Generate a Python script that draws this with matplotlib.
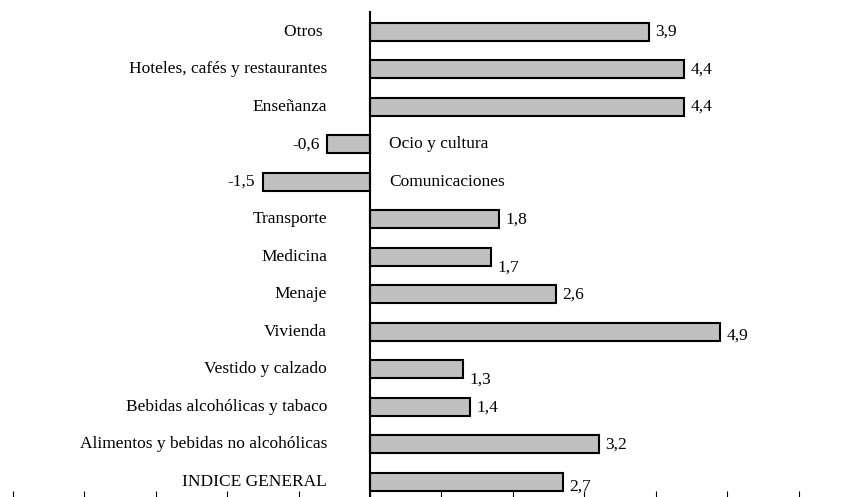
import matplotlib
matplotlib.use("Agg")
import matplotlib.pyplot as plt
import numpy as np

plt.rcParams["font.family"] = ["Liberation Serif", "DejaVu Serif"]

# categories from bottom to top
categories = [
    "INDICE GENERAL",
    "Alimentos y bebidas no alcohólicas",
    "Bebidas alcohólicas y tabaco",
    "Vestido y calzado",
    "Vivienda",
    "Menaje",
    "Medicina",
    "Transporte",
    "Comunicaciones",
    "Ocio y cultura",
    "Enseñanza",
    "Hoteles, cafés y restaurantes",
    "Otros ",
]
values = [2.7, 3.2, 1.4, 1.3, 4.9, 2.6, 1.7, 1.8, -1.5, -0.6, 4.4, 4.4, 3.9]
value_labels = ["2,7", "3,2", "1,4", "1,3", "4,9", "2,6", "1,7", "1,8", "-1,5", "-0,6", "4,4", "4,4", "3,9"]
# vertical nudges of value labels (in bar units), as in the original layout
label_drop = [0.13, 0, 0.03, 0.27, 0.1, 0, 0.29, 0, 0, 0, 0, 0, 0]

fs = 12.5
fig = plt.figure(figsize=(8.6, 4.97), dpi=100)
ax = fig.add_axes([0, 0, 1, (497 - 12) / 497])

y = np.arange(len(categories))
ax.barh(y, values, height=0.48, color="#c0c0c0", edgecolor="black", linewidth=1.5, zorder=2)

for yi, v, lab, cat, d in zip(y, values, value_labels, categories, label_drop):
    if v >= 0:
        ax.text(-0.6, yi, cat, ha="right", va="center", fontsize=fs)
        ax.text(v + 0.09, yi - d, lab, ha="left", va="center", fontsize=fs)
    else:
        ax.text(0.27, yi, cat, ha="left", va="center", fontsize=fs)
        ax.text(v - 0.11, yi, lab, ha="right", va="center", fontsize=fs)

ax.set_xlim(-5.18, 6.86)
ax.set_ylim(-0.4, 12.53)

for s in ["top", "right", "bottom"]:
    ax.spines[s].set_visible(False)
ax.spines["left"].set_position(("data", 0))
ax.spines["left"].set_linewidth(1.5)
ax.set_yticks([])
ax.set_xticks(np.arange(-5, 7))
ax.tick_params(axis="x", direction="in", length=4, width=0.8, labelbottom=False)

fig.savefig("out.png", dpi=100)
